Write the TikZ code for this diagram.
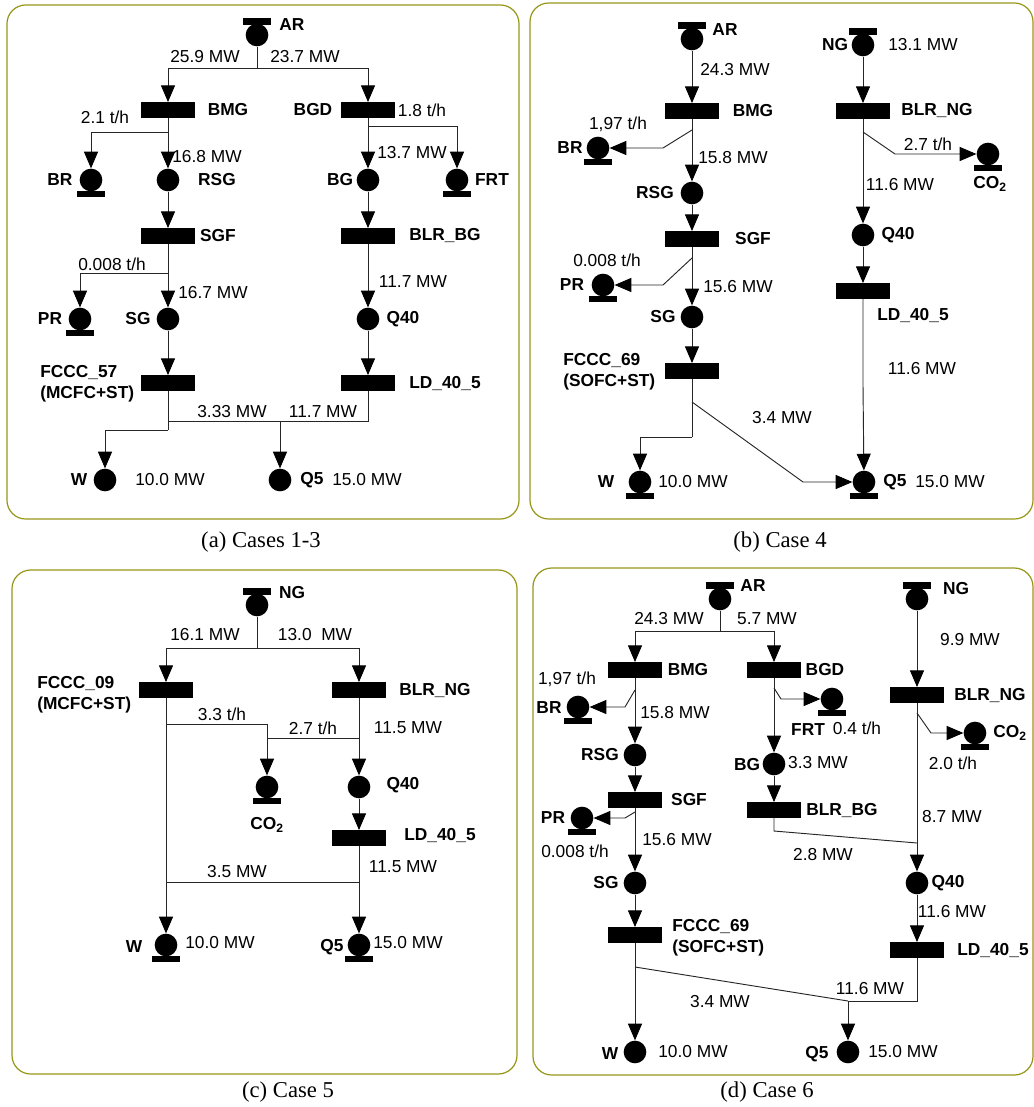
\documentclass[tikz,border=0pt]{standalone}
\usepackage{fontspec}
\setmainfont{Liberation Sans}
\newfontfamily\capfont{Liberation Serif}
\usetikzlibrary{arrows.meta,calc}
\definecolor{olv}{RGB}{150,150,25}
\newcommand\srcbar[1]{\fill ($(#1.center)+(-14,-17)$) rectangle ($(#1.center)+(14,-10)$);}
\newcommand\snkbar[1]{\fill ($(#1.center)+(-14,11)$) rectangle ($(#1.center)+(14,17)$);}
\tikzset{
  place/.style={circle,fill=black,minimum size=17pt,inner sep=0pt},
  trans/.style={rectangle,fill=black,minimum width=40pt,minimum height=11.5pt,inner sep=0pt},
  lbl/.style={inner sep=0pt,font=\fontsize{13}{16}\selectfont\bfseries},
  val/.style={inner sep=0pt,font=\fontsize{13}{16}\selectfont},
  captxt/.style={inner sep=0pt,font=\fontsize{17}{20}\selectfont\capfont},
  frame/.style={draw=olv,line width=0.9pt,rounded corners=14pt},
  conn/.style={line width=0.7pt,draw=black!85},
  >={Triangle[length=12.5pt,width=10.5pt,color=black,fill=black]}
}
\begin{document}
\begin{tikzpicture}[x=0.75pt,y=-0.75pt]
\useasboundingbox (0,0) rectangle (1034,1107);
% frames
\draw[frame] (7,5) rectangle (519,519);
\draw[frame] (530,3) rectangle (1033,519);
\draw[frame] (12,570) rectangle (517,1074);
\draw[frame] (533,568) rectangle (1033,1075);
% captions
\node[captxt] (capa) at (261,542) {(a) Cases 1-3};
\node[captxt] (capb) at (780,542) {(b) Case 4};
\node[captxt] (capc) at (288,1092) {(c) Case 5};
\node[captxt] (capd) at (767,1092) {(d) Case 6};

%%%%%%%%%%%%%%%% Panel (a)
\node[place] (aAR) at (257,35) {}; \srcbar{aAR}
\node[trans] (aBMG) at (168,110) {};
\node[trans] (aBGD) at (368,110) {};
\node[place] (aBR) at (91,180) {}; \snkbar{aBR}
\node[place] (aRSG) at (168,180) {};
\node[place] (aBG) at (368,180) {};
\node[place] (aFRT) at (457,180) {}; \snkbar{aFRT}
\node[trans] (aSGF) at (168,236) {};
\node[trans] (aBLRBG) at (368,236) {};
\node[place] (aPR) at (80,319) {}; \snkbar{aPR}
\node[place] (aSG) at (168,319) {};
\node[place] (aQ40) at (368,319) {};
\node[trans] (aFCCC) at (168,383) {};
\node[trans] (aLD) at (368,383) {};
\node[place] (aW) at (105,480) {};
\node[place] (aQ5) at (280,480) {};
\coordinate (aJ1) at (257,68);
\coordinate (aJ2) at (168,132);
\coordinate (aJ3) at (368,126);
\coordinate (aJ4) at (168,273);
\coordinate (aJ5) at (168,421);
\coordinate (aJ6) at (280,421);
\coordinate (aJ8) at (168,430);
\begin{scope}[conn]
\draw (aAR) -- (aJ1);
\draw[->] (aJ1) -| (aBMG);
\draw[->] (aJ1) -| (aBGD);
\draw (aBMG) -- (aJ2);
\draw[->] (aJ2) -| (aBR);
\draw[->] (aJ2) -- (aRSG);
\draw (aBGD) -- (aJ3);
\draw[->] (aJ3) -| (aFRT);
\draw[->] (aJ3) -- (aBG);
\draw[->] (aRSG) -- (aSGF);
\draw[->] (aBG) -- (aBLRBG);
\draw (aSGF) -- (aJ4);
\draw[->] (aJ4) -| (aPR);
\draw[->] (aJ4) -- (aSG);
\draw[->] (aBLRBG) -- (aQ40);
\draw[->] (aSG) -- (aFCCC);
\draw[->] (aQ40) -- (aLD);
\draw (aFCCC) -- (aJ8);
\draw[->] (aJ8) -| (aW);
\draw (aJ5) -- (aJ6);
\draw (aLD) |- (aJ6);
\draw[->] (aJ6) -- (aQ5);
\end{scope}
\node[lbl] (aLar) at (292,25) {AR};
\node[val] (aL1) at (205,57) {25.9 MW};
\node[val] (aL2) at (305,57) {23.7 MW};
\node[lbl] (aLbmg) at (228,110) {BMG};
\node[lbl] (aLbgd) at (313,110) {BGD};
\node[val] (aL3) at (422,110) {1.8 t/h};
\node[val] (aL4) at (105,117) {2.1 t/h};
\node[val] (aL5) at (207,157) {16.8 MW};
\node[val] (aL6) at (412,153) {13.7 MW};
\node[lbl] (aLbr) at (60,180) {BR};
\node[lbl] (aLrsg) at (217,180) {RSG};
\node[lbl] (aLbg) at (340,180) {BG};
\node[lbl] (aLfrt) at (492,180) {FRT};
\node[lbl] (aLsgf) at (218,236) {SGF};
\node[lbl] (aLblr) at (445,236) {BLR\_BG};
\node[val] (aL7) at (112,264) {0.008 t/h};
\node[val] (aL8) at (413,282) {11.7 MW};
\node[val] (aL9) at (213,293) {16.7 MW};
\node[lbl] (aLpr) at (50,319) {PR};
\node[lbl] (aLsg) at (138,319) {SG};
\node[lbl] (aLq40) at (403,319) {Q40};
\node[lbl,anchor=west,align=left] (aLfc) at (40,384) {FCCC\_57\\(MCFC+ST)};
\node[lbl] (aLld) at (445,383) {LD\_40\_5};
\node[val] (aL10) at (232,412) {3.33 MW};
\node[val] (aL11) at (323,412) {11.7 MW};
\node[lbl] (aLw) at (79,480) {W};
\node[val] (aL12) at (170,480) {10.0 MW};
\node[lbl] (aLq5) at (312,480) {Q5};
\node[val] (aL13) at (367,480) {15.0 MW};

%%%%%%%%%%%%%%%% Panel (b)
\node[place] (bAR) at (692,39) {}; \srcbar{bAR}
\node[trans] (bBMG) at (692,111) {};
\node[place] (bNG) at (863,45) {}; \srcbar{bNG}
\node[trans] (bBLRNG) at (863,111) {};
\node[place] (bBR) at (598,148) {}; \snkbar{bBR}
\node[place] (bRSG) at (692,193) {};
\node[trans] (bSGF) at (692,239) {};
\node[place] (bCO2) at (988,154) {}; \snkbar{bCO2}
\node[place] (bQ40) at (863,235) {};
\node[trans] (bLD) at (863,291) {};
\node[place] (bPR) at (603,285) {}; \snkbar{bPR}
\node[place] (bSG) at (692,317) {};
\node[trans] (bFCCC) at (692,371) {};
\node[place] (bW) at (640,482) {}; \snkbar{bW}
\node[place] (bQ5) at (864,482) {}; \snkbar{bQ5}
\coordinate (bJ1) at (692,130);
\coordinate (bJ2) at (663,148);
\coordinate (bJ3) at (692,258);
\coordinate (bJ4) at (663,285);
\coordinate (bJ5) at (863,132);
\coordinate (bJ6) at (895,154);
\coordinate (bJ7) at (863,385);
\coordinate (bJ9) at (692,402);
\coordinate (bJ10) at (692,437);
\coordinate (bJ11) at (803,482);
\begin{scope}[conn]
\draw[->] (bAR) -- (bBMG);
\draw[->] (bBMG) -- (bRSG);
\draw[->] (bJ1) -- (bJ2) -- (bBR);
\draw[->] (bRSG) -- (bSGF);
\draw[->] (bSGF) -- (bSG);
\draw[->] (bJ3) -- (bJ4) -- (bPR);
\draw[->] (bSG) -- (bFCCC);
\draw[->] (bNG) -- (bBLRNG);
\draw[->] (bBLRNG) -- (bQ40);
\draw[->] (bJ5) -- (bJ6) -- (bCO2);
\draw[->] (bQ40) -- (bLD);
\draw[->] (bLD) -- (bJ7) -- (bQ5);
\draw (bFCCC) -- (bJ10);
\draw[->] (bJ10) -| (bW);
\draw[->] (bJ9) -- (bJ11) -- (bQ5);
\end{scope}
\node[lbl] (bLar) at (725,30) {AR};
\node[val] (bL1) at (735,70) {24.3 MW};
\node[lbl] (bLng) at (835,45) {NG};
\node[val] (bL2) at (923,45) {13.1 MW};
\node[lbl] (bLbmg) at (753,111) {BMG};
\node[lbl] (bLblr) at (937,111) {BLR\_NG};
\node[val] (bL3) at (618,124) {1,97 t/h};
\node[val] (bL4) at (928,144) {2.7 t/h};
\node[lbl] (bLbr) at (570,148) {BR};
\node[val] (bL5) at (733,158) {15.8 MW};
\node[lbl] (bLco2) at (990,184) {CO\textsubscript{2}};
\node[val] (bL6) at (900,185) {11.6 MW};
\node[lbl] (bLrsg) at (655,193) {RSG};
\node[lbl] (bLq40) at (898,235) {Q40};
\node[lbl] (bLsgf) at (753,239) {SGF};
\node[val] (bL7) at (607,260) {0.008 t/h};
\node[lbl] (bLpr) at (572,285) {PR};
\node[val] (bL8) at (738,287) {15.6 MW};
\node[lbl] (bLld) at (913,316) {LD\_40\_5};
\node[lbl] (bLsg) at (663,317) {SG};
\node[val] (bL9) at (922,369) {11.6 MW};
\node[lbl,anchor=west,align=left] (bLfc) at (563,372) {FCCC\_69\\(SOFC+ST)};
\node[val] (bL10) at (782,418) {3.4 MW};
\node[lbl] (bLw) at (606,482) {W};
\node[val] (bL11) at (693,482) {10.0 MW};
\node[lbl] (bLq5) at (895,482) {Q5};
\node[val] (bL12) at (950,482) {15.0 MW};

%%%%%%%%%%%%%%%% Panel (c)
\node[place] (cNG) at (257,605) {}; \srcbar{cNG}
\node[trans] (cFC) at (166,690) {};
\node[trans] (cBLR) at (359,690) {};
\node[place] (cCO2) at (267,787) {}; \snkbar{cCO2}
\node[place] (cQ40) at (359,787) {};
\node[trans] (cLD) at (359,838) {};
\node[place] (cW) at (166,945) {}; \snkbar{cW}
\node[place] (cQ5) at (359,945) {}; \snkbar{cQ5}
\coordinate (cJ1) at (257,648);
\coordinate (cJ2) at (166,724);
\coordinate (cJ3) at (267,724);
\coordinate (cJ4) at (359,738);
\coordinate (cJ5) at (267,738);
\coordinate (cJ6) at (166,882);
\coordinate (cJ7) at (359,882);
\begin{scope}[conn]
\draw (cNG) -- (cJ1);
\draw[->] (cJ1) -| (cFC);
\draw[->] (cJ1) -| (cBLR);
\draw[->] (cFC) -- (cW);
\draw[->] (cJ2) -- (cJ3) -- (cCO2);
\draw (cJ4) -- (cJ5);
\draw[->] (cBLR) -- (cQ40);
\draw[->] (cQ40) -- (cLD);
\draw[->] (cLD) -- (cQ5);
\draw (cJ6) -- (cJ7);
\end{scope}
\node[lbl] (cLng) at (292,593) {NG};
\node[val] (cL1) at (205,635) {16.1 MW};
\node[val] (cL2) at (315,635) {13.0~ MW};
\node[lbl,anchor=west,align=left] (cLfc) at (37,695) {FCCC\_09\\(MCFC+ST)};
\node[lbl] (cLblr) at (435,690) {BLR\_NG};
\node[val] (cL3) at (222,714) {3.3 t/h};
\node[val] (cL4) at (313,728) {2.7 t/h};
\node[val] (cL5) at (408,728) {11.5 MW};
\node[lbl] (cLq40) at (403,785) {Q40};
\node[lbl] (cLco2) at (267,825) {CO\textsubscript{2}};
\node[lbl] (cLld) at (440,835) {LD\_40\_5};
\node[val] (cL6) at (403,867) {11.5 MW};
\node[val] (cL7) at (237,872) {3.5 MW};
\node[lbl] (cLw) at (134,947) {W};
\node[val] (cL8) at (220,943) {10.0 MW};
\node[lbl] (cLq5) at (332,947) {Q5};
\node[val] (cL9) at (408,943) {15.0 MW};

%%%%%%%%%%%%%%%% Panel (d)
\node[place] (dAR) at (720,599) {}; \srcbar{dAR}
\node[trans] (dBMG) at (635,670) {};
\node[trans] (dBGD) at (774,670) {};
\node[place] (dNG) at (917,599) {}; \srcbar{dNG}
\node[trans] (dBLRNG) at (917,695) {};
\node[place] (dBR) at (578,707) {}; \snkbar{dBR}
\node[place] (dRSG) at (635,755) {};
\node[trans] (dSGF) at (635,800) {};
\node[place] (dFRT) at (832,699) {}; \snkbar{dFRT}
\node[place] (dBG) at (774,764) {};
\node[trans] (dBLRBG) at (774,810) {};
\node[place] (dCO2) at (975,733) {}; \snkbar{dCO2}
\node[place] (dPR) at (582,818) {}; \snkbar{dPR}
\node[place] (dSG) at (635,883) {};
\node[place] (dQ40) at (917,883) {};
\node[trans] (dFCCC) at (635,935) {};
\node[trans] (dLD) at (917,950) {};
\node[place] (dW) at (635,1052) {};
\node[place] (dQ5) at (848,1052) {};
\coordinate (dJ1) at (720,631);
\coordinate (dJ2) at (635,690);
\coordinate (dJ3) at (625,707);
\coordinate (dJ4) at (635,812);
\coordinate (dJ5) at (625,818);
\coordinate (dJ6) at (774,688);
\coordinate (dJ7) at (781,699);
\coordinate (dJ8) at (774,831);
\coordinate (dJ9) at (917,843);
\coordinate (dJ10) at (917,713);
\coordinate (dJ11) at (931,733);
\coordinate (dJ12) at (635,967);
\coordinate (dJ13) at (848,1001);
\begin{scope}[conn]
\draw (dAR) -- (dJ1);
\draw[->] (dJ1) -| (dBMG);
\draw[->] (dJ1) -| (dBGD);
\draw[->] (dBMG) -- (dRSG);
\draw[->] (dJ2) -- (dJ3) -- (dBR);
\draw[->] (dRSG) -- (dSGF);
\draw[->] (dSGF) -- (dSG);
\draw[->] (dJ4) -- (dJ5) -- (dPR);
\draw[->] (dBGD) -- (dBG);
\draw[->] (dJ6) -- (dJ7) -- (dFRT);
\draw[->] (dBG) -- (dBLRBG);
\draw (dBLRBG) -- (dJ8) -- (dJ9);
\draw[->] (dNG) -- (dBLRNG);
\draw[->] (dBLRNG) -- (dQ40);
\draw[->] (dJ10) -- (dJ11) -- (dCO2);
\draw[->] (dSG) -- (dFCCC);
\draw[->] (dQ40) -- (dLD);
\draw[->] (dFCCC) -- (dW);
\draw (dJ12) -- (dJ13);
\draw (dLD) |- (dJ13);
\draw[->] (dJ13) -- (dQ5);
\end{scope}
\node[lbl] (dLar) at (753,586) {AR};
\node[lbl] (dLng) at (956,589) {NG};
\node[val] (dL1) at (669,619) {24.3 MW};
\node[val] (dL2) at (767,619) {5.7 MW};
\node[val] (dL3) at (970,640) {9.9 MW};
\node[lbl] (dLbmg) at (688,670) {BMG};
\node[lbl] (dLbgd) at (825,670) {BGD};
\node[val] (dL4) at (567,679) {1,97 t/h};
\node[lbl] (dLblrng) at (990,695) {BLR\_NG};
\node[lbl] (dLbr) at (549,708) {BR};
\node[val] (dL5) at (675,713) {15.8 MW};
\node[lbl] (dLfrt) at (808,730) {FRT};
\node[val] (dL6) at (857,728) {0.4 t/h};
\node[lbl] (dLco2) at (1010,733) {CO\textsubscript{2}};
\node[lbl] (dLrsg) at (600,755) {RSG};
\node[lbl] (dLbg) at (747,765) {BG};
\node[val] (dL7) at (818,763) {3.3 MW};
\node[val] (dL8) at (953,763) {2.0 t/h};
\node[lbl] (dLsgf) at (689,800) {SGF};
\node[lbl] (dLblrbg) at (842,810) {BLR\_BG};
\node[val] (dL9) at (952,817) {8.7 MW};
\node[lbl] (dLpr) at (553,818) {PR};
\node[val] (dL10) at (677,840) {15.6 MW};
\node[val] (dL11) at (575,851) {0.008 t/h};
\node[val] (dL12) at (823,855) {2.8 MW};
\node[lbl] (dLsg) at (606,883) {SG};
\node[lbl] (dLq40) at (948,883) {Q40};
\node[val] (dL13) at (952,912) {11.6 MW};
\node[lbl,anchor=west,align=left] (dLfc) at (672,938) {FCCC\_69\\(SOFC+ST)};
\node[lbl] (dLld) at (993,950) {LD\_40\_5};
\node[val] (dL14) at (870,989) {11.6 MW};
\node[val] (dL15) at (720,1002) {3.4 MW};
\node[lbl] (dLw) at (610,1054) {W};
\node[val] (dL16) at (693,1052) {10.0 MW};
\node[lbl] (dLq5) at (817,1054) {Q5};
\node[val] (dL17) at (903,1052) {15.0 MW};
\end{tikzpicture}
\end{document}
